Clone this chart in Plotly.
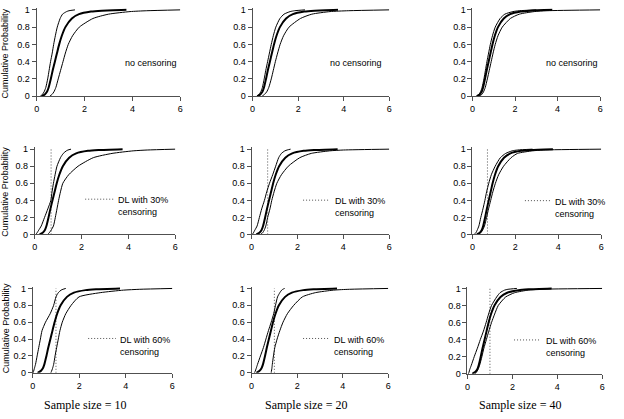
import plotly.graph_objects as go

W, H = 624, 419

# cumulative probability levels shared by every curve
P = [0, 0.02, 0.05, 0.1, 0.2, 0.3, 0.4, 0.5, 0.6, 0.7, 0.8, 0.9, 0.95, 0.98, 0.99, 1.0]

# thick middle curve (same in every panel)
MID = [0.21, 0.34, 0.43, 0.5, 0.59, 0.67, 0.76, 0.85, 0.94, 1.05, 1.2, 1.47, 1.77, 2.27, 2.72, 3.75]

# row 1: no censoring
L10 = [0.15, 0.24, 0.31, 0.38, 0.46, 0.52, 0.58, 0.65, 0.71, 0.78, 0.86, 0.98, 1.08, 1.25, 1.35, 1.6]
U10 = [0.55, 0.64, 0.72, 0.8, 0.9, 1.0, 1.1, 1.2, 1.32, 1.5, 1.78, 2.35, 3.0, 3.9, 4.6, 6.0]
L20 = [0.18, 0.28, 0.36, 0.43, 0.51, 0.58, 0.66, 0.74, 0.82, 0.91, 1.02, 1.2, 1.38, 1.65, 1.85, 2.3]
U20 = [0.42, 0.52, 0.62, 0.71, 0.82, 0.91, 1.0, 1.1, 1.21, 1.36, 1.6, 2.1, 2.6, 3.4, 4.2, 6.0]
L40 = [0.18, 0.3, 0.38, 0.45, 0.54, 0.61, 0.68, 0.76, 0.84, 0.94, 1.07, 1.3, 1.52, 1.9, 2.2, 3.0]
U40 = [0.3, 0.44, 0.52, 0.6, 0.7, 0.79, 0.88, 0.97, 1.07, 1.2, 1.4, 1.78, 2.2, 2.9, 3.5, 6.0]

# row 2: 30% censoring
L30_10 = [0.05, 0.1, 0.17, 0.28, 0.42, 0.56, 0.69, 0.74, 0.8, 0.87, 0.95, 1.1, 1.22, 1.35, 1.42, 1.55]
U30_10 = [0.55, 0.62, 0.7, 0.8, 0.88, 0.95, 1.02, 1.1, 1.2, 1.45, 1.85, 2.5, 3.3, 4.2, 4.8, 6.0]
L30_20 = [0.03, 0.08, 0.14, 0.24, 0.34, 0.44, 0.56, 0.66, 0.78, 0.92, 1.05, 1.18, 1.3, 1.45, 1.55, 1.7]
U30_20 = [0.4, 0.48, 0.55, 0.62, 0.7, 0.8, 0.88, 0.98, 1.1, 1.3, 1.6, 2.1, 2.6, 3.4, 4.0, 6.0]
L30_40 = [0.08, 0.16, 0.22, 0.3, 0.39, 0.49, 0.58, 0.66, 0.76, 0.88, 1.06, 1.3, 1.55, 1.85, 2.1, 2.8]
U30_40 = [0.26, 0.38, 0.47, 0.56, 0.66, 0.75, 0.85, 0.95, 1.07, 1.22, 1.45, 1.8, 2.1, 2.8, 3.3, 6.0]

# row 3: 60% censoring
L60_10 = [0.02, 0.04, 0.07, 0.12, 0.19, 0.26, 0.33, 0.4, 0.55, 0.75, 0.9, 1.0, 1.1, 1.22, 1.3, 1.42]
U60_10 = [0.78, 0.81, 0.85, 0.9, 0.96, 1.03, 1.1, 1.17, 1.27, 1.42, 1.65, 1.99, 2.9, 3.9, 4.6, 6.0]
L60_20 = [0.13, 0.16, 0.2, 0.26, 0.39, 0.52, 0.63, 0.74, 0.86, 0.97, 1.05, 1.14, 1.24, 1.32, 1.37, 1.45]
U60_20 = [0.86, 0.87, 0.89, 0.91, 0.96, 1.02, 1.12, 1.24, 1.38, 1.57, 1.85, 2.23, 2.8, 3.6, 4.3, 6.0]
L60_40 = [0.04, 0.07, 0.1, 0.17, 0.3, 0.44, 0.57, 0.71, 0.83, 0.94, 1.07, 1.3, 1.45, 1.65, 1.8, 2.2]
U60_40 = [0.34, 0.4, 0.47, 0.54, 0.64, 0.73, 0.84, 0.95, 1.07, 1.21, 1.37, 1.7, 2.1, 2.7, 3.2, 6.0]

DL = [None, 0.7, 1.0]
ROW_TEXT = ["no censoring", "DL with 30%<br>censoring", "DL with 60%<br>censoring"]
SAMPLE_LABELS = ["Sample size = 10", "Sample size = 20", "Sample size = 40"]
X_TICKS = [0, 2, 4, 6]
Y_TICKS = [0, 0.2, 0.4, 0.6, 0.8, 1.0]
Y_TICKTEXT = ["0", "0.2", "0.4", "0.6", "0.8", "1"]

LOWER = [[L10, L20, L40], [L30_10, L30_20, L30_40], [L60_10, L60_20, L60_40]]
UPPER = [[U10, U20, U40], [U30_10, U30_20, U30_40], [U60_10, U60_20, U60_40]]

# panel pixel geometry: x=0 px, x=6 px, y=1 px, y=0 px
GEOM = [
    [(34, 179, 7, 95), (252, 390, 7, 95), (474, 603, 7, 95)],
    [(32, 174, 149, 236), (251, 390, 149, 236), (474, 604, 149, 236)],
    [(30, 171, 291, 377), (251, 389, 291, 377), (469, 605, 291, 378)],
]
# annotation positions (px)
NOCENS_POS = [(149, 61), (356, 61), (575, 61)]
LEG_POS = [
    [(83, 112, 114, 200), (303, 330, 333, 201), (527, 553, 555, 201.5)],
    [(86, 114, 116, 342), (303, 330, 332, 342), (516, 543, 546, 343.5)],
]
SAMPLE_POS = [(83, 410), (306, 410), (522, 410)]
YTITLE_POS = [(2.5, 51), (2.5, 192), (2.5, 331)]

FONT = "Liberation Sans, Arial, sans-serif"
YMAX = 1.02
DOT = "1px,2px"

def px(x):
    return x / W

def py(y):
    return 1 - y / H

fig = go.Figure()
layout = dict(
    width=W, height=H, margin=dict(l=0, r=0, t=0, b=0),
    paper_bgcolor="white", plot_bgcolor="white", showlegend=False,
    font=dict(family=FONT, size=9, color="black"),
)
annotations = []
shapes = []

for r in range(3):
    for c in range(3):
        k = r * 3 + c + 1
        x0p, x6p, y1p, y0p = GEOM[r][c]
        s = (y0p - y1p)
        ytop = y1p - (YMAX - 1) * s
        xa = "xaxis" if k == 1 else f"xaxis{k}"
        ya = "yaxis" if k == 1 else f"yaxis{k}"
        xr = "x" if k == 1 else f"x{k}"
        yr = "y" if k == 1 else f"y{k}"
        axcommon = dict(showline=True, linecolor="#505050", linewidth=1,
                        ticks="outside", ticklen=4, tickcolor="#505050",
                        showgrid=False, zeroline=False,
                        tickfont=dict(family=FONT, size=9, color="black"))
        layout[xa] = dict(domain=[px(x0p), px(x6p)], range=[0, 6], anchor=yr,
                          tickvals=X_TICKS, **axcommon)
        layout[ya] = dict(domain=[py(y0p), py(ytop)], range=[0, YMAX], anchor=xr,
                          tickvals=Y_TICKS, ticktext=Y_TICKTEXT, **axcommon)
        # DL vertical dotted line
        if DL[r] is not None:
            fig.add_trace(go.Scatter(x=[DL[r], DL[r]], y=[0, 1], mode="lines",
                                     line=dict(color="#505050", width=1, dash=DOT),
                                     xaxis=xr, yaxis=yr, hoverinfo="skip"))
        for arr, wdt in ((LOWER[r][c], 1), (UPPER[r][c], 1), (MID, 2.0)):
            fig.add_trace(go.Scatter(x=arr, y=P, mode="lines",
                                     line=dict(color="black", width=wdt, shape="spline", smoothing=0.6),
                                     xaxis=xr, yaxis=yr, hoverinfo="skip"))
        if r == 0:
            tx, ty = NOCENS_POS[c]
            annotations.append(dict(x=px(tx), y=py(ty), xref="paper", yref="paper",
                                    text=ROW_TEXT[0], showarrow=False,
                                    xanchor="center", yanchor="middle",
                                    font=dict(family=FONT, size=9, color="black")))
        else:
            lx0, lx1, tx, ly = LEG_POS[r - 1][c]
            shapes.append(dict(type="line", xref="paper", yref="paper",
                               x0=px(lx0), x1=px(lx1), y0=py(ly), y1=py(ly),
                               line=dict(color="#505050", width=1, dash=DOT)))
            annotations.append(dict(x=px(tx), y=py(ly - 6), xref="paper", yref="paper",
                                    text=ROW_TEXT[r], showarrow=False, align="left",
                                    xanchor="left", yanchor="top",
                                    font=dict(family=FONT, size=9, color="black")))
    annotations.append(dict(x=px(YTITLE_POS[r][0]), y=py(YTITLE_POS[r][1]),
                            xref="paper", yref="paper", text="Cumulative Probability",
                            textangle=-90, showarrow=False, xanchor="center", yanchor="middle",
                            font=dict(family=FONT, size=9, color="black")))

for c in range(3):
    sx, sy = SAMPLE_POS[c]
    annotations.append(dict(x=px(sx), y=py(sy), xref="paper", yref="paper",
                            text=SAMPLE_LABELS[c], showarrow=False,
                            xanchor="center", yanchor="middle",
                            font=dict(family="Liberation Serif, Times New Roman, serif", size=12, color="black")))

layout["annotations"] = annotations
layout["shapes"] = shapes
fig.update_layout(**layout)
fig.write_html("out.html")
